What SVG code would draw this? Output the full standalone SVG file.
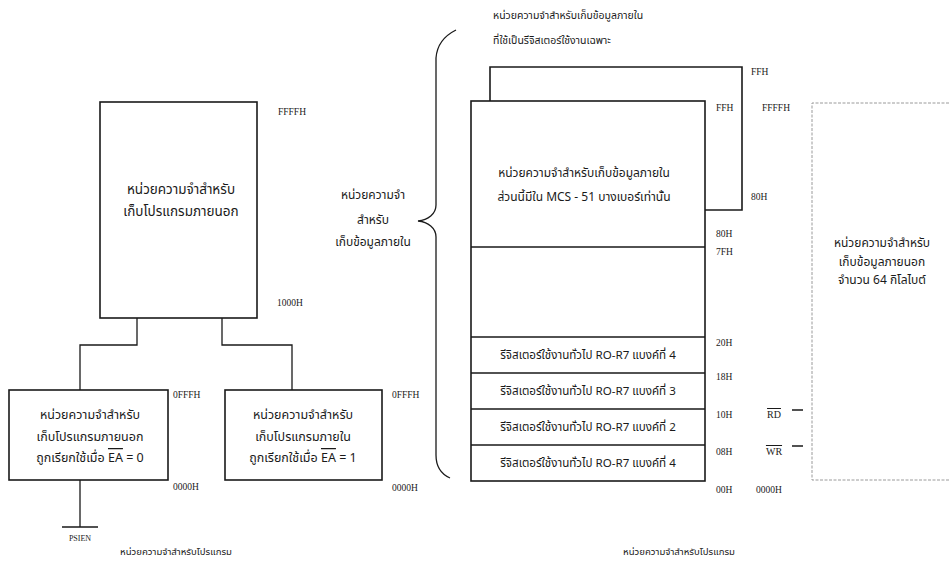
<svg xmlns="http://www.w3.org/2000/svg" width="949" height="566" viewBox="0 0 949 566">
<style>
.box{fill:none;stroke:#1a1a1a;stroke-width:1.6}
.ln{fill:none;stroke:#1a1a1a;stroke-width:1.3}
.th{font-family:"Noto Sans Thai","Liberation Serif","DejaVu Serif",serif;font-size:12px;fill:#1a1a1a;text-anchor:middle}
.thl{font-family:"Noto Sans Thai","Liberation Serif","DejaVu Serif",serif;font-size:10.5px;fill:#1a1a1a}
.ad{font-family:"Liberation Serif",serif;font-size:9.5px;fill:#1a1a1a}
.sg{font-family:"Liberation Serif",serif;font-size:10px;fill:#1a1a1a;text-anchor:middle}
.ov{text-decoration:overline}
</style>
<rect width="949" height="566" fill="#ffffff"/>

<g id="connectors">
<path class="ln" d="M137,318 V345 H80 V390"/>
<path class="ln" d="M222,318 V345 H292 V390"/>
<path class="ln" d="M80,480 V527 M62,527 H98"/>
<path class="ln" d="M456,30 C444,36 437,44 436,58 V205 C436,214 428,220 418,221 C428,222 436,228 436,237 V455 C436,466 441,474 450,478"/>
<path class="ln" d="M792,410 H803 M792,446 H803"/>
</g>

<g id="ext-program">
<rect class="box" x="100" y="102" width="157" height="216"/>
<text class="th" x="181" y="194" style="font-size:13.5px">หน่วยความจำสำหรับ</text>
<text class="th" x="181" y="216" style="font-size:13.5px">เก็บโปรแกรมภายนอก</text>
<text class="ad" x="278" y="115">FFFFH</text>
<text class="ad" x="277" y="306">1000H</text>
</g>

<g id="ext-program-ea0">
<rect class="box" x="9" y="390" width="159" height="90"/>
<text class="th" x="90" y="419" style="font-size:12.5px">หน่วยความจำสำหรับ</text>
<text class="th" x="90" y="441" style="font-size:12.5px">เก็บโปรแกรมภายนอก</text>
<text class="th" x="90" y="462" style="font-size:12.5px">ถูกเรียกใช้เมื่อ <tspan class="ov">EA</tspan> = 0</text>
<text class="ad" x="173" y="398">0FFFH</text>
<text class="ad" x="173" y="490">0000H</text>
</g>

<g id="int-program-ea1">
<rect class="box" x="225" y="390" width="157" height="90"/>
<text class="th" x="303" y="419" style="font-size:12.5px">หน่วยความจำสำหรับ</text>
<text class="th" x="303" y="441" style="font-size:12.5px">เก็บโปรแกรมภายใน</text>
<text class="th" x="303" y="462" style="font-size:12.5px">ถูกเรียกใช้เมื่อ <tspan class="ov">EA</tspan> = 1</text>
<text class="ad" x="392" y="398">0FFFH</text>
<text class="ad" x="392" y="491">0000H</text>
</g>

<g id="brace-label">
<text class="th" x="373" y="199">หน่วยความจำ</text>
<text class="th" x="373" y="224">สำหรับ</text>
<text class="th" x="373" y="246">เก็บข้อมูลภายใน</text>
</g>

<g id="sfr">
<path class="box" d="M490,101 V67 H742 V210 H705"/>
<text class="thl" x="493" y="19">หน่วยความจำสำหรับเก็บข้อมูลภายใน</text>
<text class="thl" x="493" y="44">ที่ใช้เป็นรีจิสเตอร์ใช้งานเฉพาะ</text>
<text class="ad" x="751" y="75">FFH</text>
<text class="ad" x="751" y="200">80H</text>
</g>

<g id="internal-data">
<rect class="box" x="471" y="101" width="234" height="380"/>
<path class="box" d="M471,247 H705 M471,337 H705 M471,373 H705 M471,409 H705 M471,445 H705"/>
<text class="th" x="584" y="177">หน่วยความจำสำหรับเก็บข้อมูลภายใน</text>
<text class="th" x="584" y="201">ส่วนนี้มีใน MCS - 51 บางเบอร์เท่านั้น</text>
<text class="th" x="588" y="359" style="font-size:11.6px">รีจิสเตอร์ใช้งานทั่วไป RO-R7 แบงค์ที่ 4</text>
<text class="th" x="588" y="395" style="font-size:11.6px">รีจิสเตอร์ใช้งานทั่วไป RO-R7 แบงค์ที่ 3</text>
<text class="th" x="588" y="431" style="font-size:11.6px">รีจิสเตอร์ใช้งานทั่วไป RO-R7 แบงค์ที่ 2</text>
<text class="th" x="588" y="467" style="font-size:11.6px">รีจิสเตอร์ใช้งานทั่วไป RO-R7 แบงค์ที่ 4</text>
<text class="ad" x="716" y="111">FFH</text>
<text class="ad" x="716" y="237">80H</text>
<text class="ad" x="716" y="255">7FH</text>
<text class="ad" x="716" y="346">20H</text>
<text class="ad" x="716" y="380">18H</text>
<text class="ad" x="716" y="418">10H</text>
<text class="ad" x="716" y="455">08H</text>
<text class="ad" x="716" y="493">00H</text>
</g>

<g id="ext-data">
<path d="M949,103 H812 V480 H949" fill="none" stroke="#9a9a9a" stroke-width="1" stroke-dasharray="3,1.5"/>
<text class="th" x="882" y="247">หน่วยความจำสำหรับ</text>
<text class="th" x="882" y="266">เก็บข้อมูลภายนอก</text>
<text class="th" x="882" y="284">จำนวน 64 กิโลไบต์</text>
<text class="ad" x="762" y="111">FFFFH</text>
<text class="ad" x="756" y="493">0000H</text>
<text class="sg" x="774" y="418"><tspan class="ov">RD</tspan></text>
<text class="sg" x="774" y="455"><tspan class="ov">WR</tspan></text>
</g>

<g id="bottom-labels">
<text class="sg" x="80" y="541" style="font-size:8px">PSIEN</text>
<text class="th" x="176" y="555" style="font-size:9.6px">หน่วยความจำสำหรับโปรแกรม</text>
<text class="th" x="679" y="555" style="font-size:9.6px">หน่วยความจำสำหรับโปรแกรม</text>
</g>
</svg>
